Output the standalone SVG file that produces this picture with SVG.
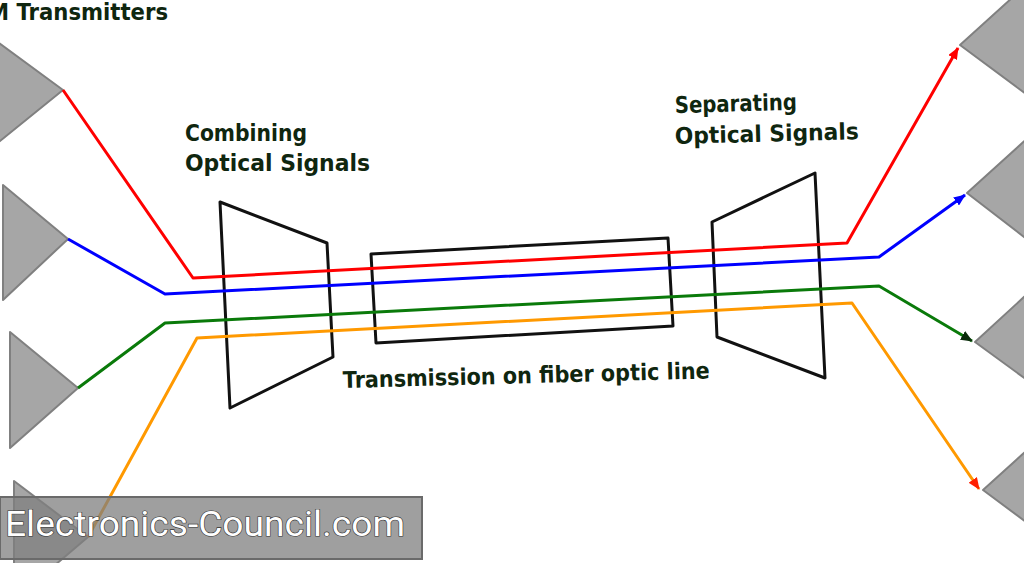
<svg xmlns="http://www.w3.org/2000/svg" width="1024" height="563" viewBox="0 0 1024 563">
<style>
.tri{fill:#a6a6a6;stroke:#808080;stroke-width:2;stroke-linejoin:round}
.box{fill:none;stroke:#111;stroke-width:3;stroke-linejoin:round}
.sig{fill:none;stroke-width:3;stroke-linejoin:round}
.lbl{font-family:"DejaVu Sans",Verdana,sans-serif;font-weight:bold;font-size:23px;fill:#0f260f}
.wm{font-family:Roboto,"Liberation Sans",Arial,sans-serif;font-size:35px;fill:#fff;stroke:#333;stroke-width:1.2;paint-order:stroke}
</style>
<defs>
<marker id="aR" markerUnits="userSpaceOnUse" markerWidth="12" markerHeight="10" refX="11" refY="5" orient="auto"><path d="M0,0L12,5L0,10z" fill="#ff0000"/></marker>
<marker id="aB" markerUnits="userSpaceOnUse" markerWidth="12" markerHeight="10" refX="11" refY="5" orient="auto"><path d="M0,0L12,5L0,10z" fill="#0000ff"/></marker>
<marker id="aG" markerUnits="userSpaceOnUse" markerWidth="12" markerHeight="10" refX="11" refY="5" orient="auto"><path d="M0,0L12,5L0,10z" fill="#0a2a0a"/></marker>
<marker id="aO" markerUnits="userSpaceOnUse" markerWidth="12" markerHeight="10" refX="11" refY="5" orient="auto"><path d="M0,0L12,5L0,10z" fill="#ff2000"/></marker>
</defs>
<rect width="1024" height="563" fill="#fff"/>
<g id="transmitters">
<polygon class="tri" points="-5,40 63,90 -5,145"/>
<polygon class="tri" points="3,185 68,239 3,300"/>
<polygon class="tri" points="10,332 78,388 10,448"/>
<polygon class="tri" points="14,481 88,537 14,600"/>
</g>
<g id="receivers">
<polygon class="tri" points="960,45 1034,-22 1034,100"/>
<polygon class="tri" points="967,193 1041,126 1041,250"/>
<polygon class="tri" points="975,342 1049,274 1049,396"/>
<polygon class="tri" points="983,490 1057,423 1057,545"/>
</g>
<g id="combiner"><polygon class="box" points="220,202 327,243 333,357 230,408"/></g>
<g id="fiber"><polygon class="box" points="371,254 668,238 673,326 376,343"/></g>
<g id="separator"><polygon class="box" points="712,222 815,173 825,378 717,337"/></g>
<g id="connectors">
<polyline class="sig" stroke="#ff0000" points="63,90 193,278 847,243 958,48" marker-end="url(#aR)"/>
<polyline class="sig" stroke="#0000ff" points="68,239 165,294 879,257 965,195" marker-end="url(#aB)"/>
<polyline class="sig" stroke="#0a7a0a" points="78,388 165,323 879,286 972,341" marker-end="url(#aG)"/>
<polyline class="sig" stroke="#ff9900" points="88,537 197,338 852,303 979,489" marker-end="url(#aO)"/>
</g>
<g id="labels">
<text class="lbl" x="-12" y="20" textLength="180" lengthAdjust="spacingAndGlyphs">M Transmitters</text>
<text class="lbl" x="185" y="141" textLength="122" lengthAdjust="spacingAndGlyphs">Combining</text>
<text class="lbl" x="185" y="171" textLength="185" lengthAdjust="spacingAndGlyphs">Optical Signals</text>
<text class="lbl" x="675" y="113" textLength="122" lengthAdjust="spacingAndGlyphs" transform="rotate(-1.5 675 113)">Separating</text>
<text class="lbl" x="675" y="144" textLength="184" lengthAdjust="spacingAndGlyphs" transform="rotate(-1.5 675 144)">Optical Signals</text>
<text class="lbl" x="343" y="388" textLength="367" lengthAdjust="spacingAndGlyphs" transform="rotate(-1.5 343 388)">Transmission on fiber optic line</text>
</g>
<g id="watermark">
<rect x="0" y="497" width="422" height="62" fill="#7f7f7f" fill-opacity="0.75" stroke="#6a6a6a" stroke-width="2"/>
<text class="wm" x="5" y="536" textLength="400" lengthAdjust="spacingAndGlyphs">Electronics-Council.com</text>
</g>
</svg>
